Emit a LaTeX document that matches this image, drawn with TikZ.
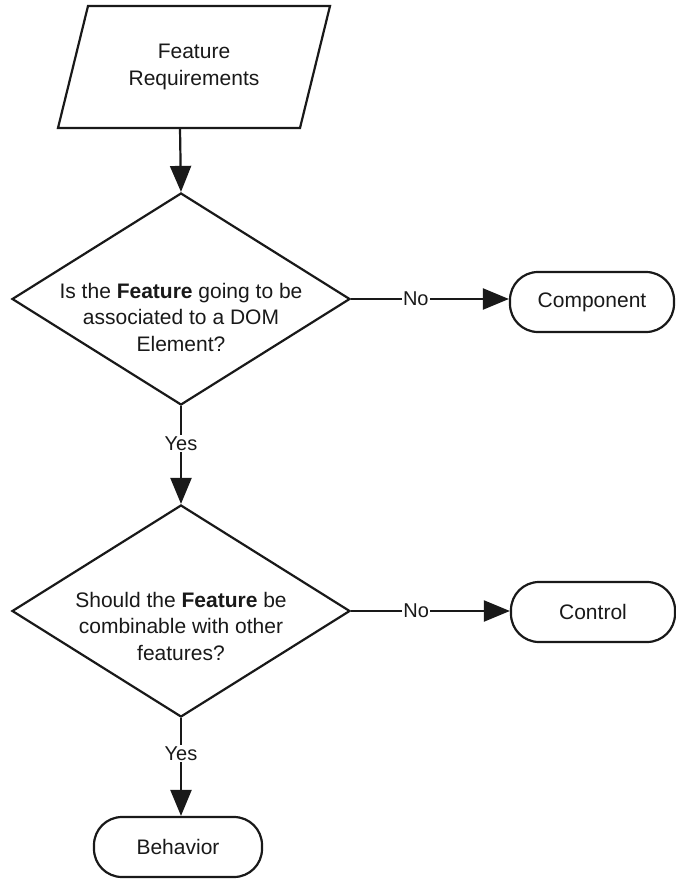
\documentclass[tikz,border=0pt]{standalone}
\usepackage{fontspec}
\setmainfont{Liberation Sans}
\usetikzlibrary{shapes.geometric,arrows.meta}
\tikzset{
  flowline/.style={line width=2.2pt,color=black!90},
  flowarrow/.style={flowline,-{Triangle[length=26pt,width=21pt]}},
  decision/.style={diamond,draw,flowline,minimum width=338pt,minimum height=212pt,inner sep=0pt},
  terminal/.style={rectangle,draw,flowline,rounded corners=28pt,minimum height=60pt,inner sep=0pt,
    font=\fontsize{21}{26}\selectfont},
  boxtext/.style={align=center,inner sep=0pt,font=\fontsize{21}{26.5}\selectfont,text=black!90},
  answer/.style={fill=white,inner sep=1.5pt,font=\fontsize{20}{24}\selectfont,text=black!90}
}
\begin{document}
\begin{tikzpicture}[x=1pt,y=-1pt]
\useasboundingbox[fill=white] (0,0) rectangle (676,879);
% Drawing shapes
% Input: feature requirements
\draw[flowline] (88,6) -- (330,6) -- (300,128) -- (58,128) -- cycle;
\node[boxtext] (reqtext) at (194,67) {Feature\\Requirements};
\coordinate (reqout) at (180,128);
% Decision 1: DOM element
\node[decision] (askdom) at (181,299) {};
\node[boxtext] (askdomtext) at (181,317) {Is the \textbf{Feature} going to be\\associated to a DOM\\Element?};
% Decision 2: combinable
\node[decision] (askmix) at (181,611) {};
\node[boxtext] (askmixtext) at (181,626) {Should the \textbf{Feature} be\\combinable with other\\features?};
% Outcomes
\node[terminal,minimum width=164pt] (component) at (592,302) {Component};
\node[terminal,minimum width=164pt] (control) at (593,612) {Control};
\node[terminal,minimum width=168pt] (behavior) at (178,847) {Behavior};
% Done with shapes; drawing connectors
\draw[flowarrow] (reqout) -- (askdom.north);
\draw[flowarrow] (askdom.east) -- node[answer,pos=0.41] {No} (askdom.east -| component.west);
\draw[flowarrow] (askdom.south) -- node[answer,pos=0.38] {Yes} (askmix.north);
\draw[flowarrow] (askmix.east) -- node[answer,pos=0.41] {No} (askmix.east -| control.west);
\draw[flowarrow] (askmix.south) -- node[answer,pos=0.36] {Yes} (askmix.south |- behavior.north);
% Done with connectors
\end{tikzpicture}
\end{document}
